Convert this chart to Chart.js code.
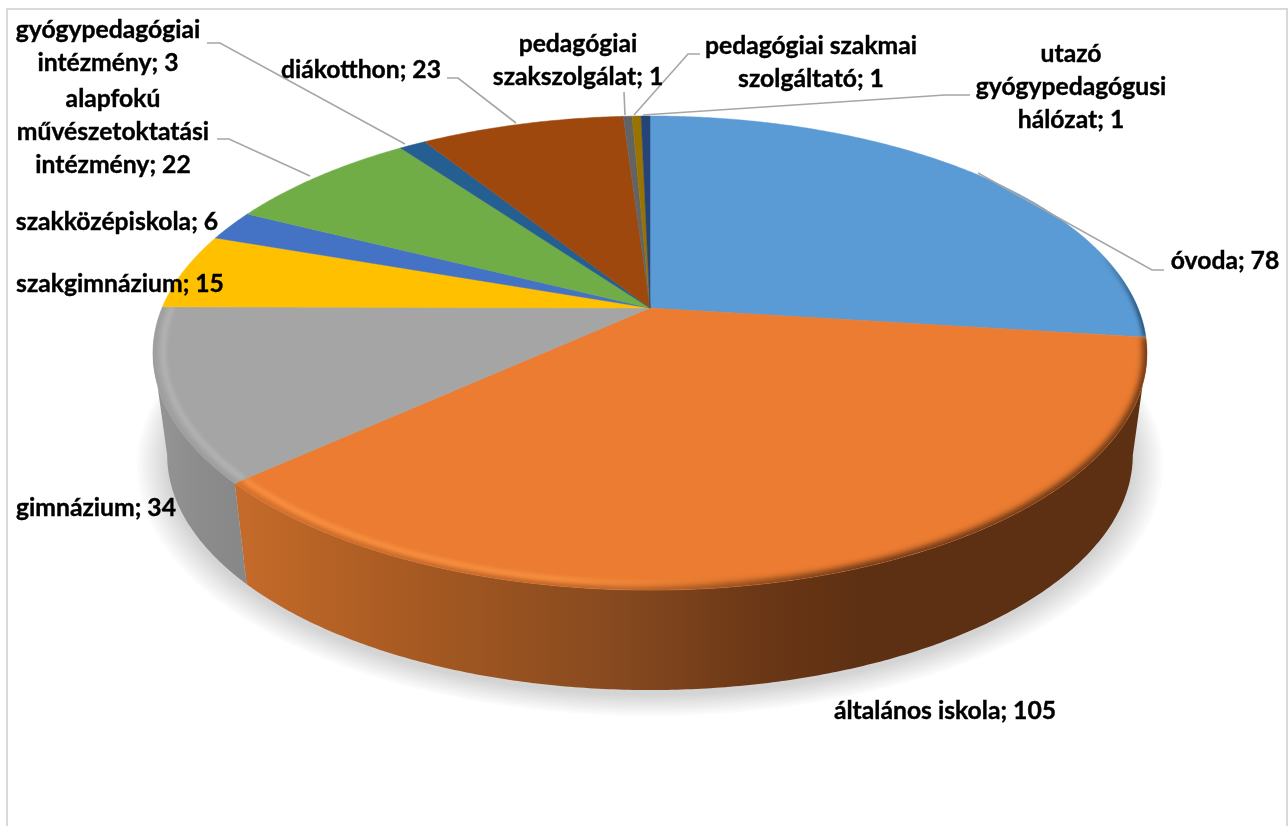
<!DOCTYPE html>
<html lang="hu">
<head>
<meta charset="utf-8">
<title>Intézmények</title>
<script src="https://cdn.jsdelivr.net/npm/chart.js@4"></script>
<style>
    html, body { margin: 0; padding: 0; background: #fff; }
    canvas { display: block; }
</style>
</head>
<body>
<canvas id="myChart" width="1288" height="826"></canvas>
<script>
const categories = ['óvoda', 'általános iskola', 'gimnázium', 'szakgimnázium', 'szakközépiskola',
    'alapfokú művészetoktatási intézmény', 'gyógypedagógiai intézmény', 'diákotthon',
    'pedagógiai szakszolgálat', 'pedagógiai szakmai szolgáltató', 'utazó gyógypedagógusi hálózat'];
const values = [78, 105, 34, 15, 6, 22, 3, 23, 1, 1, 1];
const colors = ['#5B9BD5', '#EB7C31', '#A5A5A5', '#FFC000', '#4472C4', '#70AD47',
    '#255E91', '#9E480E', '#636363', '#997300', '#264478'];

// hány szó kerül egy sorba, a felirat középpontja és az első sor alapvonala
const labelWords = [[2], [3], [2], [2], [2], [1, 1, 2], [1, 2], [2], [1, 2], [2, 2], [1, 1, 2]];
const labelX = [1225, 945, 96, 120, 117, 113, 108, 361, 578, 811, 1071];
const labelY = [269, 719, 516, 292, 230, 107, 38, 78, 52, 54, 62];
const lineHeight = 33;

const leaders = [
    [[207, 43], [220, 43], [405, 144]],
    [[217, 139], [229, 139], [310, 176]],
    [[447, 78], [458, 78], [516, 123]],
    [[624, 92], [625, 115]],
    [[700, 54], [688, 54], [634, 115]],
    [[970, 95], [945, 95], [643, 115]],
    [[1164, 270], [1152, 270], [978, 173]]
];

// a tálca teteje és alja perspektívában
const topFace = { x: 650, y: 308, bx: 488, by: 228.5, k: 0.19 };
const bottomFace = { x: 650, y: 410.4, bx: 474, by: 226.5, k: 0.19 };
const wallFrom = 11 * Math.PI / 180;
const wallTo = 169 * Math.PI / 180;

function project(face, angle, r) {
    const u = r * Math.cos(angle);
    const v = -r * Math.sin(angle);
    const w = 1 + face.k * v;
    return [face.x + face.bx * u / w, face.y - face.by * v / w];
}

function arcPoints(face, a, b, r) {
    const steps = Math.max(2, Math.ceil(Math.abs(b - a) * 120));
    const pts = [];
    for (let i = 0; i <= steps; i++) {
        pts.push(project(face, a + (b - a) * i / steps, r));
    }
    return pts;
}

function tracePoints(ctx, pts) {
    pts.forEach((p, i) => i === 0 ? ctx.moveTo(p[0], p[1]) : ctx.lineTo(p[0], p[1]));
}

function linearX(ctx, stops) {
    const g = ctx.createLinearGradient(150, 0, 1150, 0);
    stops.forEach(s => g.addColorStop((s[0] - 150) / 1000, s[1]));
    return g;
}

function wallFill(ctx, index) {
    if (index === 1) {
        return linearX(ctx, [[245, '#C46A2A'], [400, '#A95B22'], [632, '#84481F'], [760, '#6B3716'], [861, '#5E3013'], [1150, '#5E3013']]);
    }
    if (index === 2) {
        return linearX(ctx, [[150, '#969696'], [200, '#8C8C8C'], [250, '#878787']]);
    }
    return colors[index];
}

function drawWall(ctx, arc, index) {
    const a = Math.max(arc.startAngle, wallFrom);
    const b = Math.min(arc.endAngle, wallTo);
    if (b <= a) return;
    ctx.beginPath();
    tracePoints(ctx, arcPoints(topFace, a, b, 1));
    arcPoints(bottomFace, b, a, 1).forEach(p => ctx.lineTo(p[0], p[1]));
    ctx.closePath();
    ctx.fillStyle = wallFill(ctx, index);
    ctx.fill();
}

// halvány árnyék egymásra rakott ellipszisekből
function drawShadow(ctx) {
    ctx.save();
    ctx.translate(0, 5);
    ctx.fillStyle = 'rgba(0,0,0,0.016)';
    for (let i = 0; i < 14; i++) {
        ctx.beginPath();
        tracePoints(ctx, arcPoints(bottomFace, 0, Math.PI * 2, 1.06 - i * 0.0045));
        ctx.closePath();
        ctx.fill();
    }
    ctx.restore();
}

function sliceOutline(ctx, arc) {
    ctx.beginPath();
    ctx.moveTo(topFace.x, topFace.y);
    arcPoints(topFace, arc.startAngle, arc.endAngle, 1).forEach(p => ctx.lineTo(p[0], p[1]));
    ctx.closePath();
}

function rimStroke(ctx, arc, r, style, width, blur) {
    ctx.save();
    ctx.filter = 'blur(' + blur + 'px)';
    ctx.strokeStyle = style;
    ctx.lineWidth = width;
    ctx.beginPath();
    tracePoints(ctx, arcPoints(topFace, arc.startAngle, arc.endAngle, r));
    ctx.stroke();
    ctx.restore();
}

function drawFace(ctx, arc, index) {
    sliceOutline(ctx, arc);
    ctx.fillStyle = colors[index];
    ctx.fill();
    ctx.strokeStyle = colors[index];
    ctx.lineWidth = 0.5;
    ctx.stroke();

    // lekerekített perem
    ctx.save();
    sliceOutline(ctx, arc);
    ctx.clip();
    if (index === 0) {
        rimStroke(ctx, arc, 1, linearX(ctx, [[1100, 'rgba(38,80,115,0)'], [1140, 'rgba(38,80,115,1)']]), 6, 2);
    }
    if (index === 1) {
        rimStroke(ctx, arc, 1, linearX(ctx, [[245, 'rgba(196,106,42,0.7)'], [632, 'rgba(132,72,31,0.5)'], [760, 'rgba(107,55,22,0.85)'], [861, '#5E3013'], [1150, '#5E3013']]), 8, 3);
        rimStroke(ctx, arc, 0.98, linearX(ctx, [[238, '#FA9242'], [560, '#FA9242'], [730, 'rgba(250,146,66,0)']]), 5, 2);
    }
    if (index === 2) {
        rimStroke(ctx, arc, 1, '#9A9A9A', 4, 2);
        rimStroke(ctx, arc, 0.98, '#B4B4B4', 5, 2);
    }
    ctx.restore();
}

function drawLabels(ctx, chart) {
    ctx.strokeStyle = '#A6A6A6';
    ctx.lineWidth = 1.6;
    leaders.forEach(line => {
        ctx.beginPath();
        tracePoints(ctx, line);
        ctx.stroke();
    });

    ctx.fillStyle = '#000';
    ctx.strokeStyle = '#000';
    ctx.lineWidth = 0.4;
    ctx.font = 'bold 24.7px Lato';
    ctx.textAlign = 'center';
    ctx.textBaseline = 'alphabetic';
    chart.data.labels.forEach((name, i) => {
        const words = (name + '; ' + values[i]).split(' ');
        let pos = 0;
        labelWords[i].forEach((count, line) => {
            const text = words.slice(pos, pos + count).join(' ');
            ctx.fillText(text, labelX[i], labelY[i] + line * lineHeight);
            ctx.strokeText(text, labelX[i], labelY[i] + line * lineHeight);
            pos += count;
        });
    });
}

function drawFrame(ctx) {
    ctx.strokeStyle = '#D9D9D9';
    ctx.lineWidth = 2;
    ctx.beginPath();
    ctx.moveTo(7, 826);
    ctx.lineTo(7, 9);
    ctx.lineTo(1287, 9);
    ctx.lineTo(1287, 826);
    ctx.stroke();
}

const perspectivePie = {
    id: 'perspectivePie',
    beforeDatasetsDraw(chart) {
        const ctx = chart.ctx;
        const arcs = chart.getDatasetMeta(0).data;
        drawFrame(ctx);
        drawShadow(ctx);
        arcs.forEach((arc, i) => drawWall(ctx, arc, i));
        arcs.forEach((arc, i) => drawFace(ctx, arc, i));
        drawLabels(ctx, chart);
        return false; // a szeleteket már kirajzoltuk
    }
};

new Chart(document.getElementById('myChart'), {
    type: 'pie',
    data: {
        labels: categories,
        datasets: [{ data: values, backgroundColor: colors, borderWidth: 0 }]
    },
    options: {
        responsive: false,
        animation: false,
        devicePixelRatio: 1,
        plugins: {
            legend: { display: false },
            tooltip: { enabled: false }
        }
    },
    plugins: [perspectivePie]
});
</script>
</body>
</html>
